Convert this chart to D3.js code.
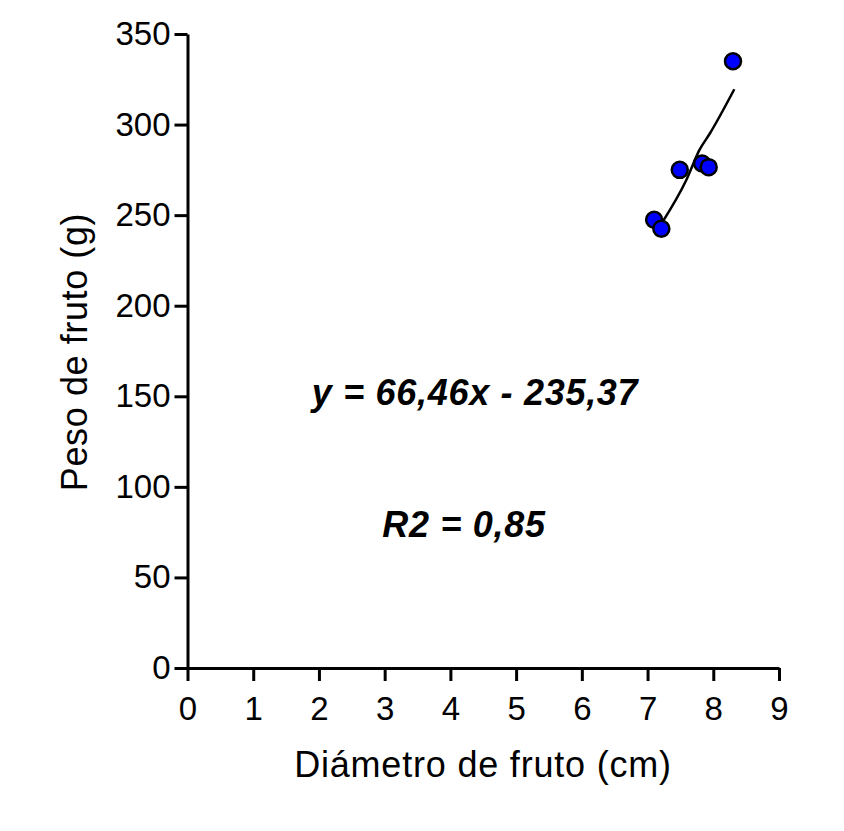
<!DOCTYPE html>
<html><head><meta charset="utf-8">
<script src="https://cdn.jsdelivr.net/npm/d3@7"></script>
<style>body{margin:0;background:#fff}text{font-family:"Liberation Sans",Arial,sans-serif}</style>
</head><body><svg id="c" width="844" height="831"></svg>
<script>
const diameter = [8.30, 7.49, 7.83, 7.93, 7.10, 7.21];
const weight = [335, 275, 278.5, 276.5, 247.5, 242.5];
const fitX = [7.22, 7.59, 7.79, 7.95, 8.32];
const fitY = [245.8, 269.4, 286.0, 295.2, 319.5];
const xTicks = [0,1,2,3,4,5,6,7,8,9];
const yTicks = [0,50,100,150,200,250,300,350];
const xTitle = "Diámetro de fruto (cm)";
const yTitle = "Peso de fruto (g)";
const eqText = "y = 66,46x - 235,37";
const r2Text = "R2 = 0,85";

const svg = d3.select("#c");
const x = d3.scaleLinear().domain([0,9]).range([187.5,779]);
const y = d3.scaleLinear().domain([0,350]).range([668,34]);

const xa = svg.append("g").attr("transform","translate(0,668)")
  .call(d3.axisBottom(x).tickValues(xTicks).tickSize(13).tickPadding(16).tickSizeOuter(0));
const ya = svg.append("g").attr("transform","translate(187.5,0)")
  .call(d3.axisLeft(y).tickValues(yTicks).tickSize(13).tickPadding(4).tickSizeOuter(0));
[xa,ya].forEach(a=>{
  a.selectAll("path,line").attr("stroke","#000").attr("stroke-width",3);
  a.selectAll("text").attr("font-size",33).attr("fill","#000").attr("font-family","Liberation Sans, Arial, sans-serif");
});

svg.append("text").attr("x",483).attr("y",777).attr("text-anchor","middle")
  .attr("font-size",36).attr("letter-spacing",0.8).text(xTitle);
svg.append("text").attr("transform","translate(87,352) rotate(-90)").attr("text-anchor","middle")
  .attr("font-size",36).attr("letter-spacing",0.6).text(yTitle);

svg.append("path").datum(fitX.map((d,i)=>[d,fitY[i]]))
  .attr("d",d3.line().x(d=>x(d[0])).y(d=>y(d[1])).curve(d3.curveMonotoneX))
  .attr("fill","none").attr("stroke","#000").attr("stroke-width",2.5);

svg.append("g").selectAll("circle").data(diameter.map((d,i)=>[d,weight[i]])).join("circle")
  .attr("cx",d=>x(d[0])).attr("cy",d=>y(d[1])).attr("r",8)
  .attr("fill","#0000ff").attr("stroke","#000").attr("stroke-width",2.5);

svg.append("text").attr("x",475).attr("y",405).attr("text-anchor","middle")
  .attr("font-size",36).attr("letter-spacing",0.7).attr("font-weight","bold").attr("font-style","italic").text(eqText);
svg.append("text").attr("x",464).attr("y",537).attr("text-anchor","middle")
  .attr("font-size",36).attr("letter-spacing",0.7).attr("font-weight","bold").attr("font-style","italic").text(r2Text);
</script></body></html>
